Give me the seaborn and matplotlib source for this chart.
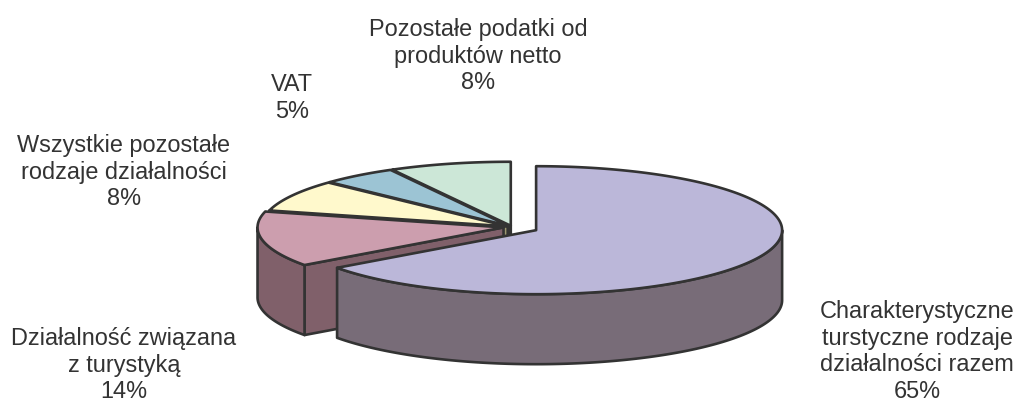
import numpy as np
import matplotlib
matplotlib.use("Agg")
import matplotlib.pyplot as plt
from matplotlib.patches import Polygon
import seaborn as sns

# data (shares in %, clockwise from 12 o'clock)
labels = [
    "Charakterystyczne\nturstyczne rodzaje\ndziałalności razem",
    "Działalność związana\nz turystyką",
    "Wszystkie pozostałe\nrodzaje działalności",
    "VAT",
    "Pozostałe podatki od\nproduktów netto",
]
values = [65, 14, 8, 5, 8]

top_colors = ["#BBB7D9", "#CC9EAE", "#FFF9CC", "#9CC4D4", "#CCE7D7"]
side_colors = ["#786C78", "#80606A", "#9C9870", "#5E7C88", "#7C9284"]
explode = [0.11, 0.035, 0.02, 0.02, 0.02]

# label placement (pixel coords of text top-centre)
label_pos = [(917, 300), (124, 327), (124, 134), (292, 73), (478, 18)]

sns.set_style("white")
plt.rcParams["font.family"] = ["Liberation Sans", "DejaVu Sans"]

W, H = 1019, 405
cx, cy = 512, 227
rx, ry, depth = 246, 64, 70
edge = "#333333"
lw = 1.9

fig = plt.figure(figsize=(W / 100, H / 100), dpi=100)
ax = fig.add_axes([0, 0, 1, 1])
ax.set_xlim(0, W)
ax.set_ylim(H, 0)
ax.axis("off")

fracs = np.array(values, dtype=float) / sum(values)
cum = np.concatenate([[0], np.cumsum(fracs)])
th1 = 90 - 360 * cum[:-1]
th2 = 90 - 360 * cum[1:]


def pt(t, ox, oy, r=1.0, down=0.0):
    t = np.radians(t)
    return cx + ox + r * rx * np.cos(t), cy + oy - r * ry * np.sin(t) + down


def draw_slice(i):
    a1, a2 = th1[i], th2[i]
    mid = np.radians((a1 + a2) / 2)
    ox = explode[i] * rx * np.cos(mid)
    oy = -explode[i] * ry * np.sin(mid)
    v = (cx + ox, cy + oy)

    # radial faces
    for ang, vis in [(a1, np.cos(np.radians(a1)) < -1e-6),
                     (a2, np.cos(np.radians(a2)) > 1e-6)]:
        if vis:
            px, py = pt(ang, ox, oy)
            poly = [v, (px, py), (px, py + depth), (v[0], v[1] + depth)]
            ax.add_patch(Polygon(poly, closed=True, fc=side_colors[i],
                                 ec=edge, lw=lw, joinstyle="round"))

    # outer wall (front half only)
    ts = np.linspace(a2, a1, 600)
    extra = [k * 180 for k in range(-4, 5) if a2 < k * 180 < a1]
    ts = np.sort(np.concatenate([ts, extra]))
    front = np.sin(np.radians(ts)) <= 1e-9
    runs, cur = [], []
    for t, f in zip(ts, front):
        if f:
            cur.append(t)
        elif cur:
            runs.append(cur)
            cur = []
    if cur:
        runs.append(cur)
    for run in runs:
        if len(run) < 2:
            continue
        run = np.array(run)
        xt, yt = pt(run, ox, oy)
        xb, yb = pt(run[::-1], ox, oy, down=depth)
        poly = np.column_stack([np.concatenate([xt, xb]),
                                np.concatenate([yt, yb])])
        ax.add_patch(Polygon(poly, closed=True, fc=side_colors[i],
                             ec=edge, lw=lw, joinstyle="round"))

    # top face
    ts = np.linspace(a1, a2, 300)
    xt, yt = pt(ts, ox, oy)
    poly = np.vstack([[v], np.column_stack([xt, yt])])
    ax.add_patch(Polygon(poly, closed=True, fc=top_colors[i],
                         ec=edge, lw=lw, joinstyle="round"))


# painter's order: back slices first
order = np.argsort(-np.sin(np.radians((th1 + th2) / 2)))
for i in order:
    draw_slice(i)

for lab, val, (x, y) in zip(labels, values, label_pos):
    ax.text(x, y, f"{lab}\n{val}%", ha="center", va="top",
            fontsize=16.9, color="#333333", linespacing=1.2)

fig.savefig("out.png", dpi=100)
